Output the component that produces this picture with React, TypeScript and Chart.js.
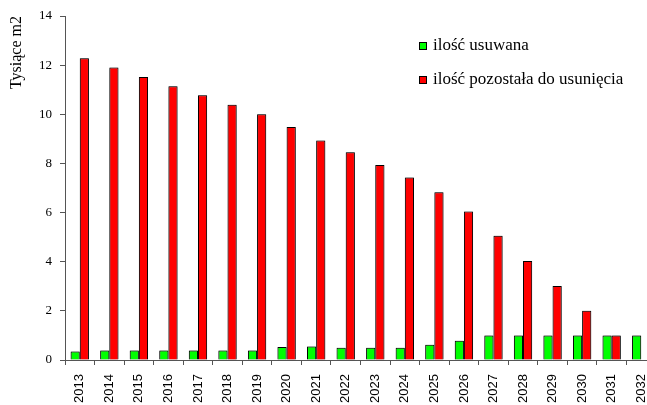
import React, { useEffect, useRef } from 'react';
import { Chart, registerables } from 'chart.js';

Chart.register(...registerables);

const years = [
	'2013', '2014', '2015', '2016', '2017', '2018', '2019', '2020', '2021', '2022',
	'2023', '2024', '2025', '2026', '2027', '2028', '2029', '2030', '2031', '2032',
];
const removed = [0.35, 0.39, 0.39, 0.39, 0.39, 0.39, 0.39, 0.53, 0.55, 0.5, 0.5, 0.5, 0.62, 0.78, 1, 1, 1, 1, 1, 1];
const remaining = [12.28, 11.9, 11.52, 11.14, 10.77, 10.39, 10.0, 9.48, 8.93, 8.45, 7.94, 7.43, 6.83, 6.04, 5.06, 4.03, 3.01, 2.0, 1.0, 0];
const seriesLabels = ['ilość usuwana', 'ilość pozostała do usunięcia'];
const yTitle = 'Tysiące m2';
const yMax = 14;
const yStep = 2;

const axisColor = '#555';

// legend drawn inside the plot, top right, like the original
const cornerLegend = {
	id: 'cornerLegend',
	afterDraw(chart: any) {
		const { ctx } = chart;
		ctx.save();
		ctx.font = '17px "Liberation Serif"';
		ctx.textBaseline = 'middle';
		chart.data.datasets.forEach((ds: any, i: number) => {
			const x = 419;
			const y = 42 + i * 34;
			ctx.fillStyle = ds.backgroundColor;
			ctx.fillRect(x, y, 8, 8);
			ctx.strokeStyle = '#000';
			ctx.lineWidth = 1;
			ctx.strokeRect(x + 0.5, y + 0.5, 7, 7);
			ctx.fillStyle = '#000';
			ctx.fillText(ds.label, 433, y + 4);
		});
		ctx.restore();
	},
};

// soft grey halo round the bars
const barShadow = {
	id: 'barShadow',
	beforeDatasetsDraw(chart: any) {
		const { ctx } = chart;
		ctx.save();
		ctx.shadowColor = 'rgba(0,0,0,0.45)';
		ctx.shadowBlur = 2;
		ctx.shadowOffsetX = 0;
		ctx.shadowOffsetY = 0;
	},
	afterDatasetsDraw(chart: any) {
		chart.ctx.restore();
	},
};

function App() {
	const chartRef = useRef<HTMLCanvasElement>(null);

	useEffect(() => {
		const ctx = chartRef.current?.getContext('2d');
		if (!ctx) return;
		const chart = new Chart(ctx, {
			type: 'bar',
			data: {
				labels: years,
				datasets: [
					{
						label: seriesLabels[0],
						data: removed,
						backgroundColor: '#00ff00',
						borderColor: '#000',
						borderWidth: 1,
						borderSkipped: 'bottom',
					},
					{
						label: seriesLabels[1],
						data: remaining,
						backgroundColor: '#ff0000',
						borderColor: '#000',
						borderWidth: 1,
						borderSkipped: 'bottom',
					},
				],
			},
			options: {
				animation: false,
				responsive: true,
				maintainAspectRatio: false,
				layout: { padding: { top: 16, right: 0, left: 0, bottom: 0 } },
				datasets: { bar: { categoryPercentage: 0.62, barPercentage: 1 } },
				plugins: {
					legend: { display: false },
					tooltip: { enabled: false },
				},
				scales: {
					x: {
						grid: { drawOnChartArea: false, offset: true, tickLength: 5, color: axisColor },
						border: { color: axisColor },
						ticks: {
							color: '#000',
							font: { family: '"Liberation Sans"', size: 13 },
							minRotation: 90,
							maxRotation: 90,
							autoSkip: false,
							padding: 9,
						},
						afterFit(scale: any) {
							scale.height = 45;
							scale.paddingLeft = 0;
							scale.paddingRight = 0;
						},
					},
					y: {
						min: 0,
						max: yMax,
						grid: { drawOnChartArea: false, tickLength: 5, color: axisColor },
						border: { color: axisColor },
						ticks: {
							stepSize: yStep,
							color: '#000',
							font: { family: '"Liberation Serif"', size: 13 },
							padding: 8,
						},
						title: {
							display: true,
							text: yTitle,
							align: 'end',
							color: '#000',
							font: { family: '"Liberation Serif"', size: 16 },
							padding: { top: 7, bottom: 0 },
						},
						afterFit(scale: any) {
							scale.width = 65;
						},
					},
				},
			},
			plugins: [barShadow, cornerLegend],
		});

		return () => {
			chart.destroy();
		};
	}, []);

	return (
		<div style={{ position: 'absolute', left: 0, top: 0, width: 647, height: 405, overflow: 'hidden', background: '#fff' }}>
			<div style={{ position: 'relative', width: 656, height: 405 }}>
				<canvas ref={chartRef} />
			</div>
		</div>
	);
}

export default App;
